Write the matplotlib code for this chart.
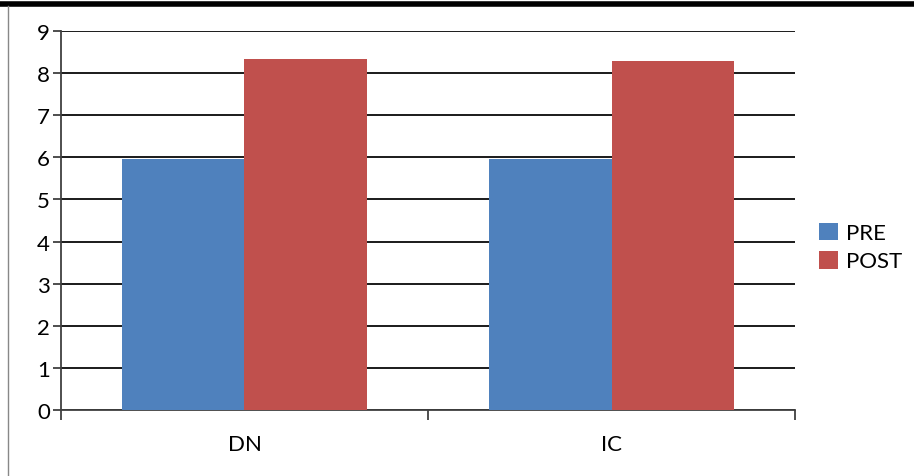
import matplotlib.pyplot as plt
import numpy as np
from matplotlib.lines import Line2D

categories = ["DN", "IC"]
series_names = ["PRE", "POST"]
pre_values = [5.95, 5.95]
post_values = [8.33, 8.29]
y_ticks = list(range(0, 10))

colors = ["#4F81BD", "#C0504D"]

plt.rcParams['font.family'] = ['Lato', 'DejaVu Sans']

fig = plt.figure(figsize=(9.14, 4.77), dpi=100)
ax = fig.add_axes([61 / 914, 66 / 477, 734 / 914, 379 / 477])

x = np.arange(len(categories)) + 0.5
width = 1 / 3
ax.bar(x - width / 2, pre_values, width, color=colors[0], label=series_names[0], zorder=3)
ax.bar(x + width / 2, post_values, width, color=colors[1], label=series_names[1], zorder=3)

ax.set_xlim(0, len(categories))
ax.set_ylim(0, 9)
ax.set_yticks(y_ticks)
ax.yaxis.grid(True, color="#1a1a1a", linewidth=1.4, zorder=0)
ax.set_axisbelow(True)

# category boundaries carry the tick marks, labels sit between them
ax.set_xticks(np.arange(len(categories) + 1))
ax.set_xticklabels([])
ax.set_xticks(x, minor=True)
ax.set_xticklabels(categories, minor=True)
ax.tick_params(axis="x", which="major", direction="out", length=7, width=1.3, color="#404040")
ax.tick_params(axis="x", which="minor", length=0, pad=17, labelsize=16)
ax.tick_params(axis="y", direction="out", length=6, width=1.3, color="#404040", pad=2, labelsize=16)

for side in ["top", "right"]:
    ax.spines[side].set_visible(False)
for side in ["left", "bottom"]:
    ax.spines[side].set_color("#404040")
    ax.spines[side].set_linewidth(1.3)

ax.legend(loc="center left", bbox_to_anchor=(1.018, 0.43), frameon=False,
          fontsize=16, handlelength=0.85, handleheight=0.85, handletextpad=0.35,
          labelspacing=0.35, borderpad=0)

# page border around the chart
fig.add_artist(Line2D([0, 1], [1 - 4.5 / 477, 1 - 4.5 / 477], transform=fig.transFigure,
                      color="black", linewidth=4))
fig.add_artist(Line2D([8 / 914, 8 / 914], [0, 1 - 7 / 477], transform=fig.transFigure,
                      color="#888888", linewidth=1))

fig.savefig("out.png", dpi=100)
